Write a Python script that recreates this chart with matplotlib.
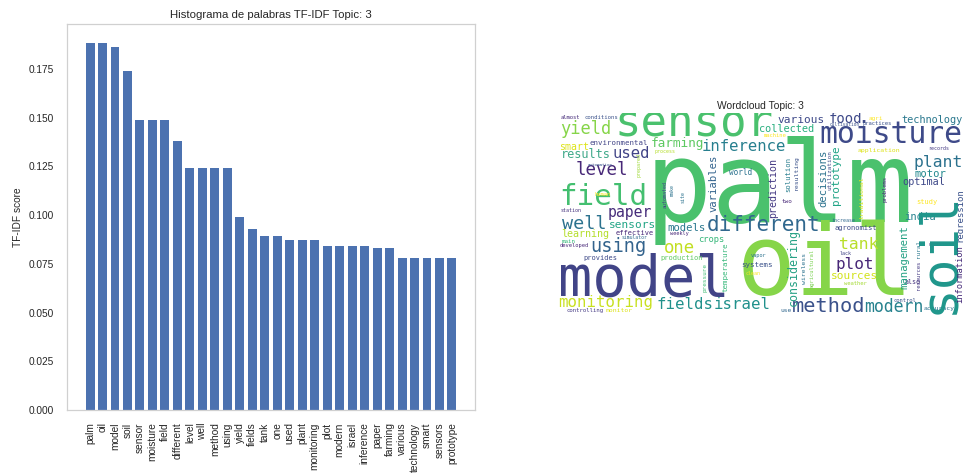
import matplotlib
matplotlib.use("Agg")
import matplotlib.pyplot as plt

plt.rcParams["font.family"] = ["Liberation Sans", "DejaVu Sans"]

# Top TF-IDF terms of topic 3
words = ["palm", "oil", "model", "soil", "sensor", "moisture", "field", "different",
         "level", "well", "method", "using", "yield", "fields", "tank", "one", "used",
         "plant", "monitoring", "plot", "modern", "israel", "inference", "paper",
         "farming", "various", "technology", "smart", "sensors", "prototype"]
scores = [0.188, 0.188, 0.186, 0.174, 0.149, 0.149, 0.149, 0.138,
          0.124, 0.124, 0.124, 0.124, 0.099, 0.093, 0.089, 0.089, 0.087,
          0.087, 0.087, 0.084, 0.084, 0.084, 0.084, 0.083,
          0.083, 0.078, 0.078, 0.078, 0.078, 0.078]
y_ticks = [0.000, 0.025, 0.050, 0.075, 0.100, 0.125, 0.150, 0.175]

# Word cloud layout on a 406 x 207 canvas (y grows downward).
# Horizontal words: (word, center x, baseline y, em size px, colour)
cloud_flat = [
    ("palm", 222, 108.7, 112, "#4ac16d"),
    ("oil", 268, 182, 98, "#86d549"),
    ("model", 87.2, 182.3, 57, "#414487"),
    ("sensor", 137.2, 23.7, 44, "#4ac16d"),
    ("moisture", 334, 30, 29.7, "#3e4a89"),
    ("field", 46.3, 92, 29.2, "#44bf70"),
    ("different", 206.3, 118, 21, "#31688e"),
    ("method", 271.7, 199, 20.3, "#3b528b"),
    ("using", 61.3, 139, 18.7, "#33638d"),
    ("well", 27.2, 115.7, 18.5, "#2c728e"),
    ("level", 44.7, 62, 17.5, "#482878"),
    ("one", 122.2, 139.7, 17.2, "#c2df23"),
    ("yield", 28.8, 21.3, 17, "#86d549"),
    ("modern", 336.5, 199, 16.5, "#26828e"),
    ("tank", 301.5, 135.7, 16.4, "#b8de29"),
    ("plant", 381.3, 53.7, 16.4, "#2c728e"),
    ("plot", 298, 155.7, 16, "#482878"),
    ("fields", 128, 196, 15.8, "#21918c"),
    ("israel", 185, 196, 15.8, "#21918c"),
    ("monitoring", 48.8, 194, 15.7, "#c8e020"),
    ("used", 73.8, 45.3, 15.6, "#414487"),
    ("inference", 187.2, 38, 15.6, "#277f8e"),
    ("paper", 73, 104.5, 14.7, "#472d7b"),
    ("food", 288.8, 10.3, 14, "#3e4989"),
    ("farming", 120.5, 34.3, 12.8, "#5ec962"),
    ("results", 28.8, 45.3, 11.9, "#40a98a"),
    ("various", 243.8, 10.3, 11.1, "#3e4989"),
    ("sensors", 75.5, 114.7, 11.1, "#21a585"),
    ("sources", 297.5, 165.7, 11.1, "#d2e21b"),
    ("models", 129.7, 118.3, 10.6, "#2a788e"),
    ("motor", 373, 63.7, 10.5, "#23898e"),
    ("india", 363, 107, 10.5, "#26828e"),
    ("technology", 374.7, 10.3, 10.3, "#2a788e"),
    ("optimal", 367.2, 72, 10.3, "#3e4989"),
    ("collected", 229.7, 18.7, 10.2, "#29af7f"),
    ("learning", 28, 124, 10, "#b5de2b"),
    ("smart", 17.2, 37, 9.9, "#dde318"),
    ("crops", 153.8, 129, 8.8, "#35b779"),
    ("world", 183.8, 62, 7.6, "#2c728e"),
    ("systems", 199.5, 154, 7.5, "#3b528b"),
    ("environmental", 61.3, 32, 7.4, "#414487"),
    ("production", 124.7, 147.3, 7.2, "#5ec962"),
    ("agronomist", 299, 117, 7.2, "#3e4a89"),
    ("effective", 78, 121.7, 7, "#482878"),
    ("provides", 43.8, 147.3, 7, "#3e4a89"),
    ("study", 370, 91, 7, "#fde725"),
    ("also", 355.5, 170.5, 6.7, "#46337e"),
    ("monitor", 62, 199, 6.5, "#dde318"),
    ("application", 322, 39, 6.5, "#dde318"),
    ("accuracy", 382, 197, 6.5, "#2c728e"),
    ("use", 229, 199, 6.3, "#31688e"),
    ("two", 230.5, 90, 6, "#482878"),
    ("agri", 318.5, 7, 6, "#fde725"),
    ("main", 11.3, 130.3, 5.9, "#35b779"),
    ("controlling", 27.8, 199, 5.7, "#443983"),
    ("conditions", 44.7, 6, 5.6, "#3b528b"),
    ("almost", 13.5, 6, 5.5, "#472d7b"),
    ("human", 46, 83, 5.5, "#fde725"),
    ("machine", 218, 24, 5.5, "#fde725"),
    ("practices", 320, 12, 5.5, "#3b528b"),
    ("control", 347.5, 189, 5.5, "#3b528b"),
    ("weather", 298.5, 171.7, 5.5, "#a5db36"),
    ("developed", 17.2, 134, 5.4, "#482878"),
    ("weekly", 122, 122.5, 5.2, "#482878"),
    ("vapor", 201.5, 144, 5.2, "#2c728e"),
    ("station", 14, 99, 5, "#46337e"),
    ("process", 108, 40, 5, "#b5de2b"),
    ("records", 381.5, 37, 5, "#443983"),
    ("increase", 286.5, 109, 5, "#31688e"),
    ("lack", 289, 142, 5, "#414487"),
    ("clean", 196.5, 162, 5, "#fde725"),
    ("simulator", 77.2, 126.3, 4.8, "#31688e"),
    ("cultivation", 288, 12.7, 4.5, "#3b528b"),
    ("decision", 383, 132.5, 4.5, "#482878"),
    ("automation", 43.5, 52.5, 4.3, "#3b528b"),
]
# Vertical words (reading upward): (word, baseline x, center y, em size px, colour)
cloud_vert = [
    ("soil", 396, 139, 51, "#1f968b"),
    ("considering", 240, 155, 11.6, "#26a185"),
    ("prototype", 282, 62, 11, "#20a486"),
    ("management", 350, 144, 10.6, "#23a083"),
    ("variables", 159, 70, 10.5, "#33638d"),
    ("decisions", 269, 65, 10.5, "#2c728e"),
    ("prediction", 219, 74.5, 10, "#443983"),
    ("regression", 405, 102, 9, "#3b528b"),
    ("information", 405, 161, 8.8, "#472c7a"),
    ("temperature", 170, 154, 7.5, "#35b779"),
    ("solution", 233, 62, 7.3, "#287d8e"),
    ("resulting", 241, 60, 6.5, "#3b528b"),
    ("traditional", 307, 85, 6.5, "#dde318"),
    ("wireless", 249, 156, 6.5, "#2c728e"),
    ("utilization", 274, 57, 6, "#3e4a89"),
    ("rural", 363, 136, 6, "#2a788e"),
    ("pressure", 149, 164, 6, "#3fbc73"),
    ("problems", 329, 76, 5.5, "#482878"),
    ("resources", 363, 162, 5.5, "#443983"),
    ("agricultural", 257, 155, 5.5, "#7ad151"),
    ("prepared", 83, 52, 5, "#a0da39"),
    ("automated", 110, 82, 5, "#414487"),
    ("make", 117, 77, 5, "#2c728e"),
    ("site", 128, 84, 5, "#2c728e"),
]

W, H, DPI = 964, 474, 100
fig = plt.figure(figsize=(W / DPI, H / DPI), dpi=DPI)
fig.patch.set_facecolor("white")

text_col = "#262626"

# ---- bar chart ----
ax = fig.add_axes([67 / W, 1 - 410 / H, 408 / W, 386 / H])
x = list(range(len(words)))
ax.bar(x, scores, width=0.72, color="#4c72b0")
ax.set_xticks(x)
ax.set_xticklabels(words, rotation=90, fontsize=7.3, color=text_col)
ax.set_yticks(y_ticks)
ax.set_yticklabels([f"{v:.3f}" for v in y_ticks], fontsize=7.3, color=text_col)
ax.set_ylim(0, 0.198)
ax.tick_params(axis="both", length=0)
ax.tick_params(axis="x", pad=9)
ax.tick_params(axis="y", pad=9.5)
ax.set_ylabel("TF-IDF score", fontsize=7.3, color=text_col, labelpad=4)
ax.set_title("Histograma de palabras TF-IDF Topic: 3", fontsize=8.2,
             color=text_col, pad=4)
for s in ax.spines.values():
    s.set_color("#d0d0d0")
    s.set_linewidth(0.9)
ax.grid(False)

# ---- word cloud ----
cw, ch = 406, 207
ax2 = fig.add_axes([557 / W, 1 - 320 / H, cw / W, ch / H])
ax2.set_xlim(0, cw)
ax2.set_ylim(ch, 0)
ax2.axis("off")
ax2.set_title("Wordcloud Topic: 3", fontsize=7.4, color=text_col, pad=3)

px_to_pt = 72 / DPI
for word, cx, by, em, col in cloud_flat:
    ax2.text(cx, by, word, fontsize=em * px_to_pt, color=col,
             family="DejaVu Sans Mono", ha="center", va="baseline",
             rotation_mode="anchor", clip_on=True)
for word, bx, cy, em, col in cloud_vert:
    ax2.text(bx, cy, word, fontsize=em * px_to_pt, color=col,
             family="DejaVu Sans Mono", ha="center", va="baseline",
             rotation=90, rotation_mode="anchor", clip_on=True)

fig.savefig("out.png", dpi=DPI, facecolor="white")
